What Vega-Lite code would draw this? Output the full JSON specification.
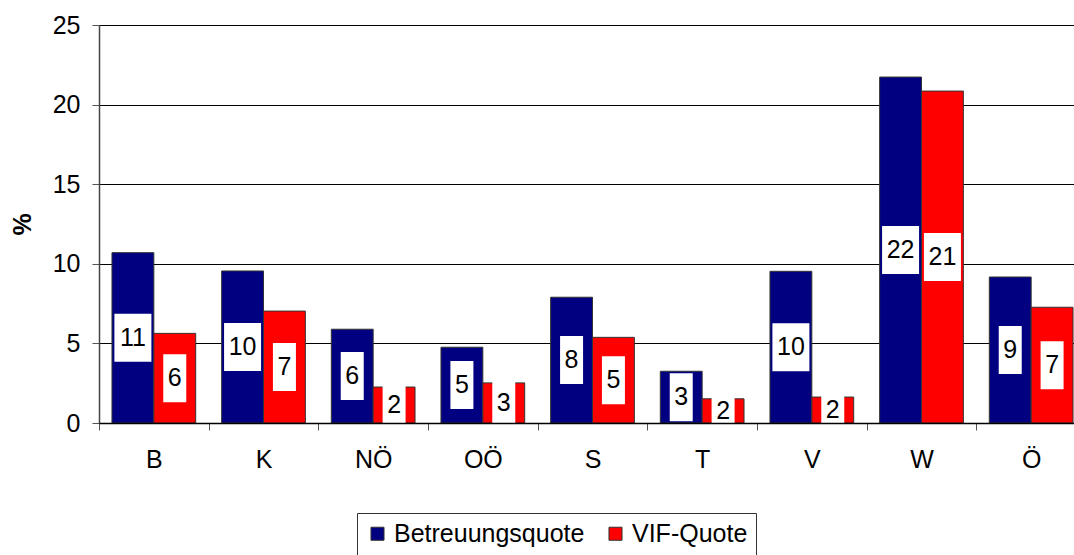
{
  "$schema": "https://vega.github.io/schema/vega-lite/v6.json",
  "width": 975,
  "height": 398,
  "autosize": {"type": "none"},
  "padding": {"left": 99, "top": 25, "right": 0, "bottom": 132},
  "background": "white",
  "config": {"font": "Liberation Sans", "view": {"stroke": null}},
  "data": {
    "values": [
      {"region": "B", "series": "Betreuungsquote", "value": 10.70},
      {"region": "B", "series": "VIF-Quote", "value": 5.63},
      {"region": "K", "series": "Betreuungsquote", "value": 9.55},
      {"region": "K", "series": "VIF-Quote", "value": 7.03},
      {"region": "NÖ", "series": "Betreuungsquote", "value": 5.89},
      {"region": "NÖ", "series": "VIF-Quote", "value": 2.26},
      {"region": "OÖ", "series": "Betreuungsquote", "value": 4.76},
      {"region": "OÖ", "series": "VIF-Quote", "value": 2.52},
      {"region": "S", "series": "Betreuungsquote", "value": 7.90},
      {"region": "S", "series": "VIF-Quote", "value": 5.38},
      {"region": "T", "series": "Betreuungsquote", "value": 3.25},
      {"region": "T", "series": "VIF-Quote", "value": 1.52},
      {"region": "V", "series": "Betreuungsquote", "value": 9.53},
      {"region": "V", "series": "VIF-Quote", "value": 1.63},
      {"region": "W", "series": "Betreuungsquote", "value": 21.73},
      {"region": "W", "series": "VIF-Quote", "value": 20.85},
      {"region": "Ö", "series": "Betreuungsquote", "value": 9.17},
      {"region": "Ö", "series": "VIF-Quote", "value": 7.27}
    ]
  },
  "encoding": {
    "x": {
      "field": "region",
      "type": "nominal",
      "sort": ["B", "K", "NÖ", "OÖ", "S", "T", "V", "W", "Ö"],
      "scale": {"paddingInner": 0, "paddingOuter": 0, "range": [0, 987]},
      "axis": {
        "title": null,
        "labelAngle": 0,
        "labelFontSize": 25,
        "labelColor": "#000",
        "labelPadding": 17,
        "tickBand": "extent",
        "tickSize": 7,
        "tickColor": "#555",
        "domainColor": "#000",
        "domainWidth": 1.5,
        "zindex": 1
      }
    },
    "xOffset": {
      "field": "series",
      "type": "nominal",
      "sort": ["Betreuungsquote", "VIF-Quote"],
      "scale": {"paddingInner": 0, "paddingOuter": 0.31}
    }
  },
  "layer": [
    {
      "mark": {"type": "bar", "stroke": "#333", "strokeWidth": 1},
      "encoding": {
        "y": {
          "field": "value",
          "type": "quantitative",
          "title": "%",
          "scale": {"domain": [0, 25], "nice": false},
          "axis": {
            "values": [0, 5, 10, 15, 20, 25],
            "grid": true,
            "gridColor": "#000",
            "gridWidth": 1,
            "domainColor": "#444",
            "domainWidth": 1.5,
            "tickColor": "#555",
            "tickSize": 7,
            "labelFontSize": 25,
            "labelColor": "#000",
            "labelPadding": 12,
            "titleFontSize": 25,
            "titleFontWeight": "bold",
            "titleColor": "#000",
            "titleX": -77,
            "titleY": 199,
            "titleAlign": "center",
            "titleBaseline": "middle",
            "titleAngle": 270
          }
        },
        "color": {
          "field": "series",
          "type": "nominal",
          "title": null,
          "scale": {"domain": ["Betreuungsquote", "VIF-Quote"], "range": ["#000080", "#FF0000"]},
          "legend": {
            "orient": "none",
            "legendX": 258,
            "legendY": 488,
            "direction": "horizontal",
            "symbolType": "square",
            "symbolSize": 170,
            "symbolStrokeColor": "#333",
            "symbolStrokeWidth": 1,
            "labelFontSize": 25,
            "labelColor": "#000",
            "labelLimit": 0,
            "labelOffset": 4,
            "columnPadding": 18,
            "padding": 8,
            "strokeColor": "#333",
            "fillColor": "white"
          }
        }
      }
    },
    {
      "transform": [{"calculate": "datum.value / 2", "as": "mid"}],
      "mark": {"type": "point", "filled": true, "color": "white", "opacity": 1, "strokeWidth": 0, "size": 2304, "clip": true},
      "encoding": {
        "y": {"field": "mid", "type": "quantitative", "title": "%"},
        "shape": {
          "condition": {"test": "datum.value >= 9.5", "value": "M-0.771,-1H0.771V1H-0.771Z"},
          "value": "M-0.479,-1H0.479V1H-0.479Z"
        }
      }
    },
    {
      "transform": [{"calculate": "datum.value / 2", "as": "mid"}],
      "mark": {"type": "text", "fontSize": 25, "baseline": "middle", "color": "#000"},
      "encoding": {
        "y": {"field": "mid", "type": "quantitative", "title": "%"},
        "text": {"field": "value", "type": "quantitative", "format": ".0f"}
      }
    }
  ]
}
